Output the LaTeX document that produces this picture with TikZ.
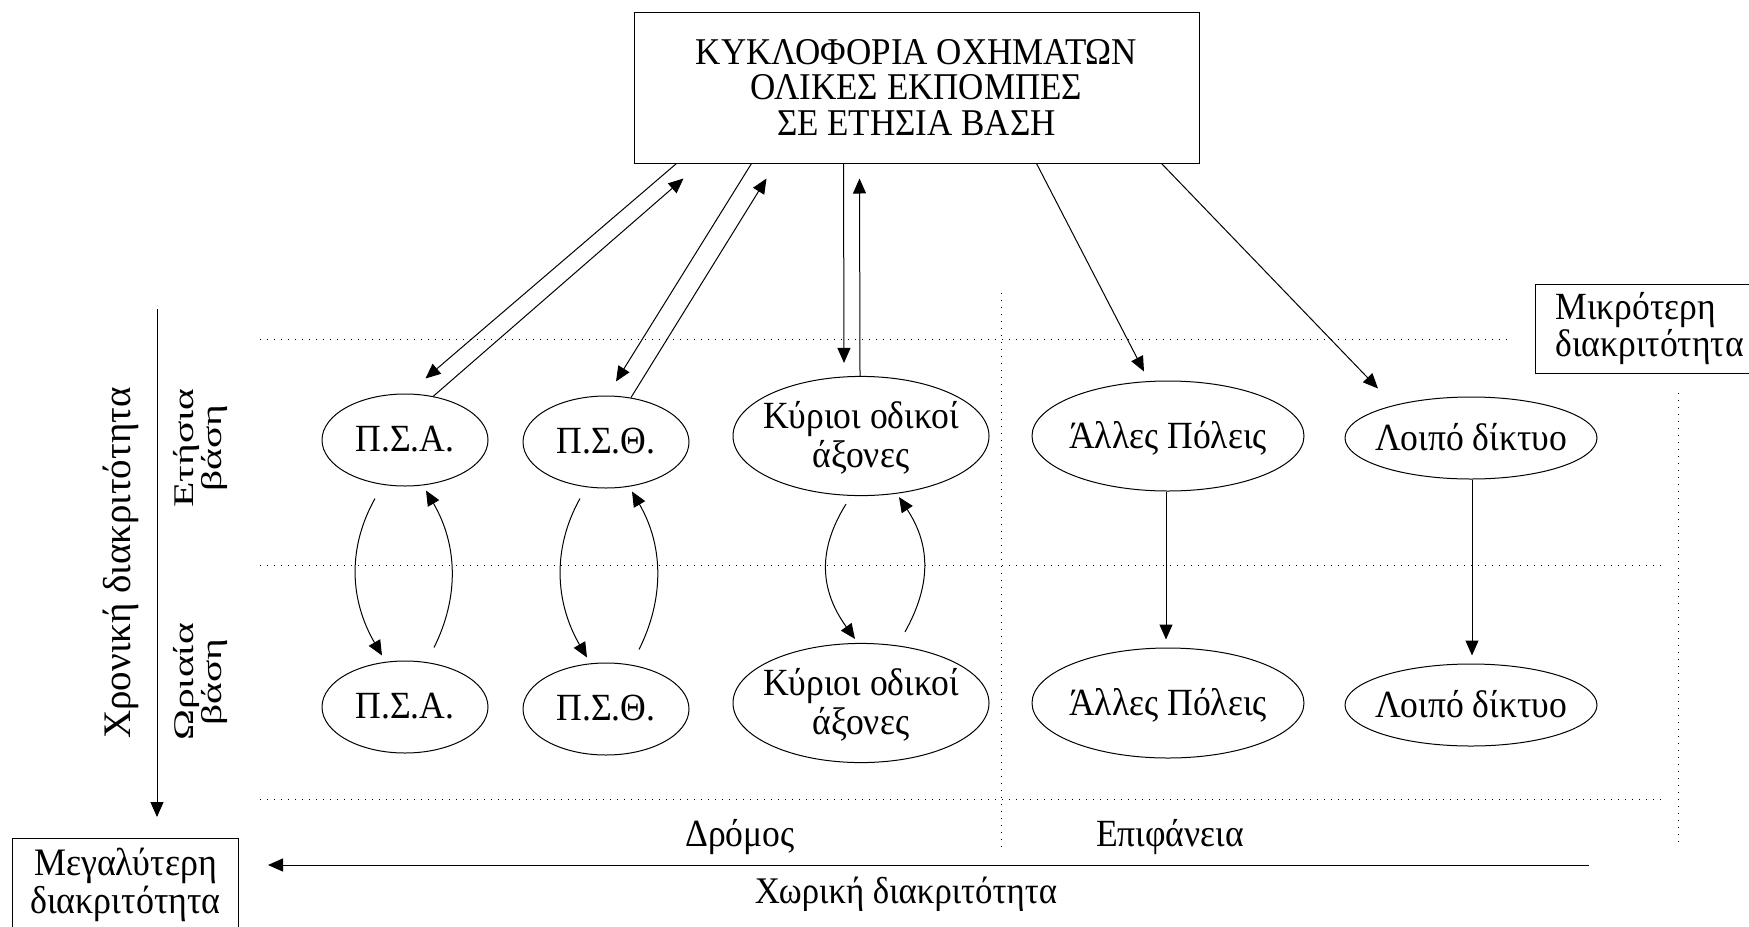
\documentclass[tikz,border=0pt]{standalone}
\usepackage{fontspec}
\usepackage{graphicx}
\setmainfont{Liberation Serif}
\usetikzlibrary{shapes.geometric,arrows.meta,calc}
\newcommand{\vtxt}[1]{\scalebox{1}[1.08]{\begin{tabular}{@{}c@{}}#1\end{tabular}}}
\newcommand{\etxt}[1]{\makebox[0pt][c]{\raisebox{0pt}[\dimexpr\height+4pt\relax][\depth]{\vtxt{#1}}}}
\newcommand{\ttxt}[1]{\raisebox{0pt}[\dimexpr\height+5pt\relax][\depth]{\vtxt{#1}}}
\newcommand{\vtxtl}[1]{\scalebox{1}[1.08]{\begin{tabular}{@{}l@{}}#1\end{tabular}}}
\newcommand{\rtxt}[1]{\scalebox{1.17}[0.8]{\begin{tabular}{@{}c@{}}#1\end{tabular}}}
\begin{document}
\begin{tikzpicture}[x=0.5pt,y=-0.5pt,
  ell/.style={draw, ellipse, inner sep=0pt, line width=0.5pt, font=\fontsize{17.8}{17}\selectfont},
  arr/.style={-{Triangle[length=7.5pt,width=6.5pt]}, line width=0.5pt},
  dots/.style={line width=0.5pt, dash pattern=on 0.5pt off 3pt},
  lbl/.style={font=\fontsize{17.8}{17}\selectfont, inner sep=0pt},
  boxed/.style={draw, line width=0.5pt, inner sep=0pt}
]
\useasboundingbox (0,0) rectangle (1749,926);

% dotted grid
\draw[dots] (260,339) -- (1509,339);
\draw[dots] (260,565) -- (1663,565);
\draw[dots] (260,799) -- (1663,799);
\draw[dots] (1001,293) -- (1001,848);
\draw[dots] (1678,393) -- (1678,848);

% top box
\node[boxed, minimum width=282.5pt, minimum height=75.5pt, font=\fontsize{17.5}{16.3}\selectfont] (top) at (916.5,87.5)
  {\ttxt{ΚΥΚΛΟΦΟΡΙΑ ΟΧΗΜΑΤΩΝ\\ΟΛΙΚΕΣ ΕΚΠΟΜΠΕΣ\\ΣΕ ΕΤΗΣΙΑ ΒΑΣΗ}};

% ellipses
\node[ell, minimum width=83pt, minimum height=46pt] (psa1) at (405,440) {\etxt{Π.Σ.Α.}};
\node[ell, minimum width=83pt, minimum height=46pt] (psa2) at (405,707) {\etxt{Π.Σ.Α.}};
\node[ell, minimum width=83pt, minimum height=46pt] (pst1) at (606,442) {\etxt{Π.Σ.Θ.}};
\node[ell, minimum width=83pt, minimum height=46pt] (pst2) at (606,709) {\etxt{Π.Σ.Θ.}};
\node[ell, minimum width=128pt, minimum height=59.5pt] (kyr1) at (861,436) {\etxt{Κύριοι οδικοί\\άξονες}};
\node[ell, minimum width=128pt, minimum height=59.5pt] (kyr2) at (861,703) {\etxt{Κύριοι οδικοί\\άξονες}};
\node[ell, minimum width=136pt, minimum height=55pt] (all1) at (1168,436) {\etxt{Άλλες Πόλεις}};
\node[ell, minimum width=136pt, minimum height=55pt] (all2) at (1168,703) {\etxt{Άλλες Πόλεις}};
\node[ell, minimum width=126pt, minimum height=41pt] (loi1) at (1471,438) {\etxt{Λοιπό δίκτυο}};
\node[ell, minimum width=126pt, minimum height=41pt] (loi2) at (1471,705) {\etxt{Λοιπό δίκτυο}};

% side boxes
\node[boxed, anchor=north west, minimum width=110pt, minimum height=44.5pt, text width=90pt, inner xsep=9pt, align=left, font=\fontsize{17.8}{15}\selectfont] (mik) at (1535,284) {\vtxtl{Μικρότερη\\διακριτότητα}};
\node[boxed, anchor=north west, minimum width=113pt, minimum height=48pt, font=\fontsize{18}{16.5}\selectfont] (meg) at (12,838) {\vtxt{Μεγαλύτερη\\διακριτότητα}};

% labels
\node[lbl, rotate=90, font=\fontsize{19.5}{17}\selectfont] (chr) at (121,563) {Χρονική διακριτότητα};
\node[lbl, rotate=90, font=\fontsize{17.8}{15.5}\selectfont] (ets) at (201,448) {\rtxt{Ετήσια\\βάση}};
\node[lbl, rotate=90, font=\fontsize{17.8}{15.5}\selectfont] (wri) at (201,682) {\rtxt{Ωριαία\\βάση}};
\node[lbl] (dro) at (740,838) {\vtxt{Δρόμος}};
\node[lbl] (epi) at (1170,838) {\vtxt{Επιφάνεια}};
\node[lbl, font=\fontsize{17.4}{17}\selectfont] (xwr) at (906,896) {\vtxt{Χωρική διακριτότητα}};

% axis arrows
\coordinate (vt) at (157,309);
\coordinate (vb) at (157,817);
\draw[arr] (vt) -- (vb);
\coordinate (hr) at (1589,865);
\coordinate (hl) at (268,865);
\draw[arr] (hr) -- (hl);

% top box to level 1
\draw[arr] ($(top.south west)+(43,0)$) -- ($(psa1.north)+(20.5,-15)$);
\draw[arr] ($(psa1.north)+(28,3)$) -- ($(top.south west)+(50,15)$);
\draw[arr] ($(top.south west)+(118,0)$) -- ($(pst1.north)+(10,-14)$);
\draw[arr] ($(pst1.north)+(25,2)$) -- ($(top.south west)+(133,15)$);
\draw[arr] ($(top.south west)+(210,0)$) -- ($(kyr1.north)+(-17,-13)$);
\draw[arr] ($(kyr1.north)+(-1,0)$) -- ($(top.south west)+(226,15)$);
\draw[arr] ($(top.south west)+(403,0)$) -- ($(all1.north)+(-24,-9)$);
\draw[arr] ($(top.south west)+(528,0)$) -- ($(loi1.north)+(-93,-8)$);

% level 1 to level 2 straight
\draw[arr] ($(all1.south)+(-2,0)$) -- ($(all2.north)+(-2,-8)$);
\draw[arr] ($(loi1.south)+(1,0)$) -- ($(loi2.north)+(1,-8)$);

% curved arrows
\draw[arr] ($(psa1.south)+(-30,12)$) .. controls +(-28,50) and +(-32,-55) .. ($(psa2.north)+(-23,-5)$);
\draw[arr] ($(psa2.north)+(29,-13)$) .. controls +(25,-50) and +(32,55) .. ($(psa1.south)+(21,4)$);
\draw[arr] ($(pst1.south)+(-26,10)$) .. controls +(-28,50) and +(-32,-55) .. ($(pst2.north)+(-19,-5)$);
\draw[arr] ($(pst2.north)+(33,-13)$) .. controls +(25,-50) and +(32,55) .. ($(pst1.south)+(26,3)$);
\draw[arr] ($(kyr1.south)+(-15,8)$) .. controls +(-28,45) and +(-36,-50) .. ($(kyr2.north)+(-6,-4)$);
\draw[arr] ($(kyr2.north)+(44,-11)$) .. controls +(25,-45) and +(33,50) .. ($(kyr1.south)+(38,1)$);
\end{tikzpicture}
\end{document}
